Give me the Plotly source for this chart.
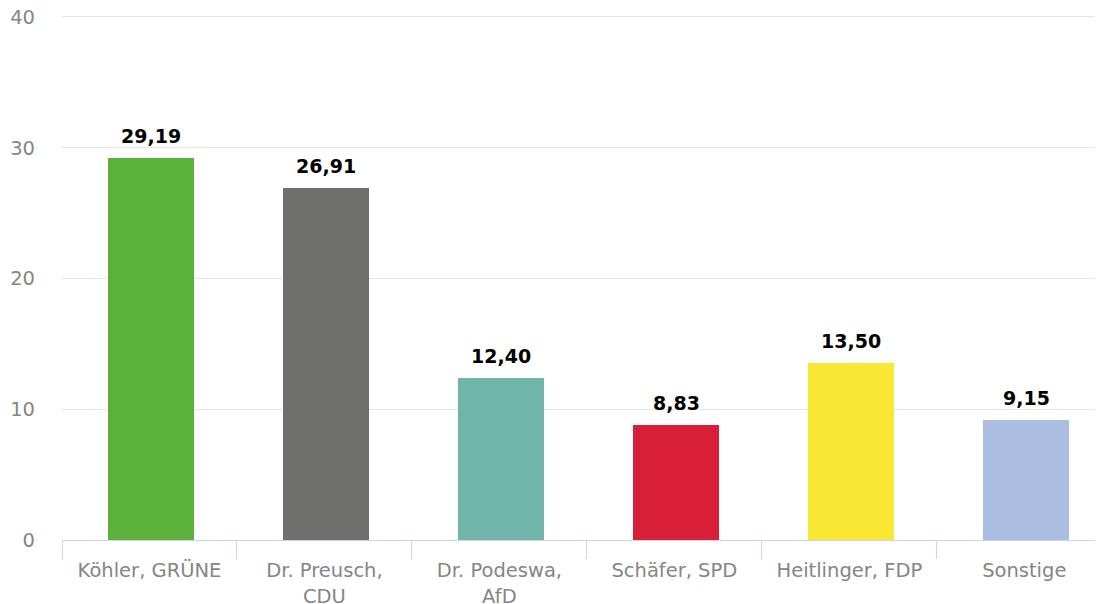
import plotly.graph_objects as go

categories = ["Köhler, GRÜNE", "Dr. Preusch,<br>CDU", "Dr. Podeswa,<br>AfD",
              "Schäfer, SPD", "Heitlinger, FDP", "Sonstige"]
values = [29.19, 26.91, 12.40, 8.83, 13.50, 9.15]
colors = ["#5bb13a", "#6f6f6d", "#71b4a8", "#d91f37", "#f8e734", "#abbde0"]
y_ticks = [0, 10, 20, 30, 40]

labels = [f"{v:.2f}".replace(".", ",") for v in values]
xs = list(range(len(categories)))

fig = go.Figure()
fig.add_trace(go.Bar(
    x=xs, y=values, marker=dict(color=colors, line=dict(width=0)),
    width=0.49, offset=-0.236, hoverinfo="skip",
))

for x, v, t in zip(xs, values, labels):
    fig.add_annotation(x=x, y=v, text=f"<b>{t}</b>", showarrow=False,
                       yanchor="bottom", yshift=9, xshift=2,
                       font=dict(family="DejaVu Sans", size=19, color="#000000"))

# page body has an 8px default margin, so the figure is made 8px smaller
fig.update_layout(
    width=1095, height=596,
    margin=dict(l=54, r=0, t=4, b=64, autoexpand=False),
    plot_bgcolor="white", paper_bgcolor="white",
    showlegend=False,
    bargap=0,
    font=dict(family="DejaVu Sans", size=19.5, color="#858585"),
)
fig.update_xaxes(
    type="linear", range=[-0.5, 5.45],
    tickmode="array", tickvals=xs, ticktext=categories,
    showgrid=False, zeroline=False,
    showline=True, linecolor="#ccd6eb", linewidth=1,
    ticks="", ticklabelstandoff=13, automargin=False, ticklabeloverflow="allow",
    tickfont=dict(family="DejaVu Sans", size=19.5, color="#858585"),
)
fig.update_xaxes(minor=dict(tickmode="array", tickvals=[x - 0.5 for x in xs],
                            ticks="outside", ticklen=18, tickcolor="#ccd6eb", tickwidth=1,
                            showgrid=False))
fig.update_yaxes(
    range=[0, 40.38], tickvals=y_ticks,
    showgrid=True, gridcolor="#e6e6e6", gridwidth=1,
    zeroline=False, showline=False, automargin=False, ticklabeloverflow="allow",
    ticks="", ticklabelstandoff=26,
    tickfont=dict(family="DejaVu Sans", size=19.5, color="#858585"),
)

fig.write_html("out.html")
